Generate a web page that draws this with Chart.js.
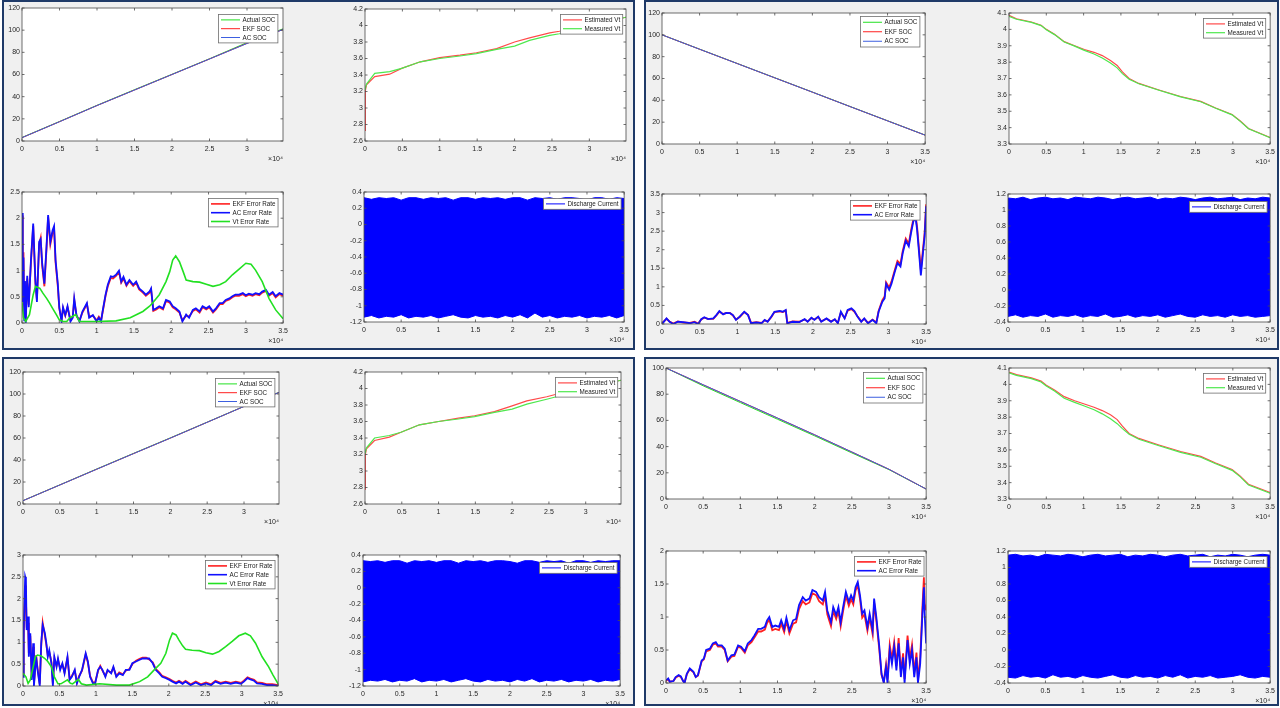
<!DOCTYPE html>
<html><head><meta charset="utf-8">
<script src="https://cdn.jsdelivr.net/npm/chart.js@4"></script>
<style>
html,body{margin:0;padding:0;background:#fff;}
body{width:1280px;height:708px;position:relative;overflow:hidden;}
.panel{position:absolute;box-sizing:border-box;border:2px solid #1f3a68;background:#f0f0f0;overflow:hidden;}
.panel canvas{position:absolute;}
</style></head><body>
<script>
// ---------------- DATA (x in units of 10^4 s) ----------------
// Panel A (top-left)
const socT_A = [0, 0.5, 1, 1.5, 2, 2.5, 3, 3.48];
const actualSoc_A = [3.2, 17.6, 32.2, 46.3, 60.2, 74.2, 88.8, 101.2];
const ekfSoc_A = [3.0, 17.4, 32.0, 46.0, 60.0, 74.0, 88.1, 100.6];
const acSoc_A = [3.0, 17.4, 32.0, 46.0, 60.0, 74.0, 88.0, 100.6];
const vtT_A = [0, 0.005, 0.02, 0.13, 0.33, 0.49, 0.74, 1.0, 1.27, 1.49, 1.76, 2.0, 2.2, 2.47, 2.6, 2.8, 3.0, 3.25, 3.49];
const estVt_A = [2.73, 3.21, 3.28, 3.38, 3.41, 3.48, 3.56, 3.61, 3.64, 3.67, 3.72, 3.80, 3.85, 3.91, 3.93, 3.97, 4.01, 4.06, 4.10];
const measVt_A = [3.23, 3.24, 3.29, 3.42, 3.44, 3.48, 3.56, 3.60, 3.63, 3.66, 3.71, 3.75, 3.82, 3.88, 3.90, 3.94, 3.99, 4.05, 4.10];
const errT_A = [0,0.01,0.02,0.03,0.04,0.05,0.07,0.09,0.12,0.15, 0.18,0.20,0.23,0.25,0.27,0.30,0.33,0.35,0.38,0.41, 0.43,0.45,0.48,0.50,0.53,0.55,0.58,0.61,0.65,0.68, 0.70,0.73,0.77,0.81,0.87,0.90,0.95,1.0,1.03,1.06, 1.08,1.12,1.15,1.19,1.22,1.26,1.30,1.33,1.36,1.40, 1.44,1.49,1.53,1.57,1.62,1.66,1.71,1.73,1.76,1.80, 1.84,1.89,1.93,1.98,2.02,2.06,2.11,2.15,2.20,2.24, 2.29,2.33,2.38,2.42,2.47,2.51,2.56,2.60,2.65,2.69, 2.73,2.78,2.82,2.86,2.91,2.96,3.0,3.04,3.09,3.13, 3.18,3.22,3.27,3.31,3.36,3.40,3.45,3.5];
const acErr_A = [2.10,0.40,1.25,0.05,0.80,0.00,0.90,0.30,1.20,1.90, 0.80,0.40,1.55,1.60,1.15,0.75,1.50,2.06,1.55,1.77, 1.85,1.20,0.75,0.30,0.03,0.30,0.15,0.32,0.03,0.10, 0.47,0.15,0.03,0.22,0.38,0.10,0.15,0.03,0.10,0.03, 0.22,0.54,0.73,0.89,0.88,0.92,1.00,0.79,0.88,0.73, 0.82,0.73,0.79,0.66,0.60,0.54,0.60,0.66,0.25,0.28, 0.32,0.28,0.44,0.41,0.32,0.28,0.22,0.03,0.16,0.10, 0.25,0.28,0.22,0.32,0.28,0.32,0.22,0.28,0.38,0.38, 0.44,0.47,0.51,0.54,0.54,0.57,0.53,0.56,0.54,0.57, 0.55,0.60,0.63,0.54,0.59,0.51,0.57,0.54];
const ekfErr_A = [2.05,0.45,1.35,0.10,0.78,0.05,0.85,0.35,1.15,1.85, 0.75,0.45,1.50,1.62,1.10,0.70,1.45,2.02,1.50,1.72, 1.80,1.15,0.70,0.28,0.05,0.28,0.14,0.30,0.05,0.12, 0.44,0.14,0.05,0.20,0.36,0.12,0.14,0.05,0.12,0.05, 0.20,0.52,0.70,0.86,0.85,0.90,0.97,0.77,0.85,0.71, 0.80,0.71,0.77,0.64,0.58,0.52,0.58,0.64,0.23,0.26, 0.30,0.26,0.42,0.39,0.30,0.26,0.20,0.05,0.14,0.12, 0.23,0.26,0.20,0.30,0.26,0.30,0.20,0.26,0.36,0.36, 0.42,0.45,0.49,0.52,0.52,0.55,0.51,0.54,0.52,0.55, 0.53,0.58,0.61,0.52,0.57,0.49,0.55,0.52];
const vtErrT_A = [0,0.02,0.05,0.10,0.15,0.18,0.24,0.28,0.33,0.37, 0.41,0.46,0.50,0.55,0.60,0.64,0.68,0.72,0.77,0.80, 1.0,1.26,1.45,1.62,1.71,1.75,1.84,1.93,1.98,2.02, 2.06,2.11,2.16,2.20,2.29,2.38,2.47,2.56,2.65,2.73, 2.82,2.91,3.0,3.07,3.13,3.22,3.31,3.40,3.5];
const vtErr_A = [0.40,0.10,0.03,0.16,0.54,0.70,0.66,0.57,0.47,0.38, 0.28,0.16,0.06,0.03,0.03,0.10,0.13,0.16,0.03,0.03, 0.03,0.04,0.10,0.22,0.32,0.38,0.54,0.79,0.98,1.20, 1.28,1.17,0.98,0.82,0.79,0.78,0.74,0.70,0.73,0.79, 0.92,1.03,1.14,1.12,1.01,0.79,0.47,0.25,0.08];

// Panel B (top-right)
const socT_B = [0, 0.5, 1, 1.5, 2, 2.5, 3, 3.5];
const actualSoc_B = [100, 86.9, 73.8, 60.7, 47.6, 34.4, 21.3, 8.2];
const ekfSoc_B = [100, 86.8, 73.7, 60.6, 47.5, 34.3, 21.2, 8.1];
const acSoc_B = [100, 86.8, 73.7, 60.6, 47.5, 34.3, 21.2, 8.1];
const vtT_B = [0,0.1,0.3,0.43,0.5,0.61,0.74,0.88,1.01,1.14,1.25,1.36,1.45,1.52,1.61,1.74,2.01,2.3,2.57,2.77,2.99,3.1,3.21,3.5];
const estVt_B = [4.086,4.065,4.045,4.025,4.0,3.97,3.925,3.9,3.877,3.86,3.84,3.81,3.78,3.74,3.70,3.67,3.63,3.59,3.56,3.52,3.48,3.44,3.395,3.34];
const measVt_B = [4.08,4.062,4.043,4.023,3.998,3.968,3.923,3.898,3.872,3.85,3.825,3.795,3.765,3.73,3.695,3.668,3.628,3.588,3.558,3.518,3.478,3.438,3.393,3.338];
const errT_B = [0,0.06,0.10,0.15,0.21,0.28,0.37,0.43,0.48,0.52, 0.56,0.61,0.68,0.72,0.76,0.81,0.85,0.90,0.94,0.98, 1.03,1.09,1.14,1.18,1.25,1.32,1.36,1.40,1.45,1.49, 1.56,1.60,1.64,1.66,1.73,1.82,1.89,1.93,1.98,2.02, 2.07,2.11,2.18,2.24,2.29,2.33,2.37,2.42,2.46,2.51, 2.55,2.59,2.64,2.68,2.73,2.79,2.84,2.87,2.92,2.95, 2.97,3.01,3.04,3.08,3.12,3.16,3.19,3.23,3.27,3.30, 3.33,3.36,3.38,3.41,3.43,3.46,3.48,3.50];
const acErr_B = [0,0.15,0.06,0,0.06,0.05,0.02,0.05,0,0.13, 0.18,0.13,0.15,0.24,0.35,0.26,0.30,0.29,0.24,0.11, 0.20,0.33,0.24,0.02,0.04,0.02,0.11,0.06,0.20,0.33, 0.35,0.33,0.38,0.02,0.06,0.05,0.13,0.06,0.17,0.11, 0.20,0.06,0.15,0.06,0.13,0.02,0.33,0.15,0.38,0.42, 0.35,0.20,0.06,0.15,0.02,0.11,0.02,0.33,0.60,0.69, 1.08,0.92,1.08,1.37,1.64,1.55,1.91,2.24,2.09,2.45, 2.76,2.87,2.54,1.82,1.31,1.95,2.36,3.17];
const ekfErr_B = [0.02,0.14,0.07,0.01,0.07,0.04,0.03,0.06,0.01,0.12, 0.17,0.14,0.14,0.23,0.33,0.27,0.29,0.30,0.23,0.12, 0.19,0.32,0.25,0.03,0.05,0.03,0.10,0.07,0.19,0.32, 0.34,0.32,0.36,0.03,0.07,0.06,0.12,0.07,0.16,0.12, 0.19,0.07,0.14,0.07,0.12,0.03,0.31,0.16,0.36,0.40, 0.33,0.21,0.07,0.14,0.03,0.12,0.04,0.35,0.64,0.74, 1.12,0.98,1.14,1.42,1.70,1.62,1.97,2.30,2.16,2.52, 2.82,2.92,2.62,1.92,1.45,2.05,2.45,3.22];

// Panel C (bottom-left)
const socT_C = [0, 0.5, 1, 1.5, 2, 2.5, 3, 3.475];
const actualSoc_C = [3.1, 17.4, 31.8, 46.0, 60.1, 74.4, 88.8, 101.5];
const ekfSoc_C = [3.0, 17.3, 31.6, 45.8, 59.9, 74.3, 88.7, 101.4];
const acSoc_C = [3.0, 17.3, 31.6, 45.8, 59.9, 74.3, 88.7, 101.4];
const vtT_C = [0, 0.005, 0.02, 0.13, 0.33, 0.49, 0.74, 1.0, 1.27, 1.49, 1.76, 2.0, 2.2, 2.47, 2.6, 2.8, 3.0, 3.25, 3.48];
const estVt_C = [2.78, 3.20, 3.27, 3.37, 3.41, 3.47, 3.56, 3.60, 3.64, 3.67, 3.72, 3.79, 3.85, 3.90, 3.93, 3.97, 4.01, 4.06, 4.10];
const measVt_C = [3.22, 3.23, 3.28, 3.40, 3.43, 3.47, 3.56, 3.60, 3.63, 3.66, 3.71, 3.75, 3.81, 3.87, 3.90, 3.94, 3.99, 4.05, 4.10];
const errT_C = [0,0.01,0.03,0.04,0.05,0.07,0.08,0.10,0.12,0.14, 0.15,0.18,0.20,0.23,0.25,0.27,0.30,0.32,0.34,0.36, 0.39,0.41,0.43,0.46,0.48,0.51,0.54,0.57,0.61,0.64, 0.67,0.71,0.74,0.77,0.81,0.86,0.89,0.92,0.96,0.99, 1.03,1.06,1.09,1.13,1.16,1.21,1.24,1.28,1.32,1.37, 1.41,1.46,1.50,1.55,1.60,1.64,1.69,1.73,1.78,1.82, 1.87,1.91,1.96,2.01,2.05,2.10,2.14,2.19,2.23,2.30, 2.37,2.44,2.51,2.58,2.64,2.71,2.78,2.85,2.92,2.99, 3.03,3.08,3.12,3.17,3.21,3.28,3.35,3.42,3.50];
const acErr_C = [0.21,1.28,2.50,2.43,1.28,1.59,0.67,1.21,0.14,0.98, 0,0.67,0.37,0,0.98,1.40,1.21,0.98,0.67,0.82, 0.52,0,0.67,0.44,0.63,0.37,0.52,0.29,0.67,0.14, 0.21,0.37,0.06,0.21,0.37,0.75,0.56,0.21,0.06,0.06, 0.37,0.44,0.37,0.21,0.37,0.29,0.44,0.21,0.29,0.25, 0.37,0.37,0.52,0.56,0.60,0.63,0.63,0.63,0.52,0.37, 0.29,0.21,0.18,0.14,0.10,0.06,0.10,0.05,0.10,0.02, 0.08,0.02,0.06,0.02,0.10,0.05,0.08,0.05,0.08,0.05, 0.10,0.18,0.15,0.12,0.06,0.05,0.02,0.02,0];
const ekfErr_C = [0.25,1.10,2.30,2.00,1.40,1.45,0.75,1.15,0.20,0.90, 0.05,0.70,0.40,0.05,0.92,1.45,1.15,0.95,0.70,0.78, 0.55,0.05,0.62,0.46,0.60,0.40,0.50,0.31,0.64,0.16, 0.23,0.35,0.08,0.23,0.35,0.72,0.54,0.23,0.08,0.08, 0.35,0.46,0.35,0.23,0.35,0.31,0.42,0.23,0.31,0.27, 0.35,0.39,0.50,0.58,0.62,0.65,0.65,0.61,0.54,0.39, 0.31,0.23,0.20,0.16,0.12,0.08,0.12,0.07,0.12,0.04, 0.10,0.04,0.08,0.04,0.12,0.07,0.10,0.07,0.10,0.07, 0.12,0.20,0.17,0.14,0.08,0.07,0.04,0.04,0.02];
const vtErrT_C = [0,0.04,0.07,0.10,0.14,0.17,0.20,0.25,0.30,0.34, 0.39,0.43,0.48,0.52,0.57,0.61,0.65,0.68,0.72,0.76, 0.80,0.87,1.05,1.28,1.46,1.60,1.71,1.80,1.89,1.96, 2.01,2.05,2.10,2.14,2.19,2.23,2.32,2.42,2.51,2.60, 2.69,2.78,2.87,2.96,3.05,3.12,3.19,3.28,3.37,3.43, 3.50];
const vtErr_C = [0.29,0.21,0.06,0.14,0.44,0.67,0.71,0.69,0.63,0.56, 0.44,0.21,0.05,0.05,0.10,0.14,0.06,0.05,0.10,0.15, 0.05,0.02,0.05,0.02,0.02,0.10,0.21,0.37,0.52,0.75, 1.05,1.21,1.17,1.05,0.92,0.84,0.82,0.81,0.76,0.73, 0.79,0.90,1.02,1.15,1.21,1.15,0.98,0.67,0.44,0.25, 0.05];

// Panel D (bottom-right)
const socT_D = [0, 0.5, 1, 1.5, 2, 2.5, 3, 3.5];
const actualSoc_D = [100, 86.4, 73.6, 60.9, 48.2, 35.2, 22.4, 7.6];
const ekfSoc_D = [100, 87.2, 74.5, 61.8, 49.0, 35.9, 22.7, 7.6];
const acSoc_D = [100, 87.2, 74.5, 61.8, 49.0, 35.9, 22.7, 7.6];
const vtT_D = [0,0.1,0.3,0.43,0.5,0.61,0.74,0.88,1.01,1.14,1.25,1.36,1.45,1.52,1.61,1.74,2.01,2.3,2.57,2.77,2.99,3.1,3.21,3.5];
const estVt_D = [4.075,4.06,4.04,4.02,3.995,3.965,3.925,3.9,3.88,3.86,3.84,3.815,3.785,3.745,3.70,3.67,3.63,3.59,3.56,3.52,3.48,3.44,3.39,3.34];
const measVt_D = [4.07,4.055,4.035,4.015,3.99,3.96,3.915,3.89,3.868,3.845,3.82,3.79,3.76,3.73,3.695,3.665,3.625,3.585,3.555,3.515,3.475,3.435,3.385,3.335];
const errT_D = [0,0.03,0.05,0.10,0.13,0.17,0.20,0.23,0.25,0.28, 0.32,0.37,0.40,0.43,0.48,0.51,0.54,0.59,0.63,0.67, 0.70,0.75,0.79,0.83,0.88,0.92,0.97,1.01,1.06,1.10, 1.15,1.19,1.24,1.28,1.33,1.36,1.39,1.43,1.47,1.52, 1.55,1.59,1.62,1.66,1.71,1.75,1.79,1.84,1.88,1.93, 1.97,2.02,2.06,2.11,2.14,2.17,2.22,2.25,2.29,2.32, 2.35,2.38,2.42,2.46,2.49,2.52,2.55,2.58,2.61,2.64, 2.67,2.71,2.74,2.78,2.80,2.83,2.87,2.90,2.93,2.96, 2.98,3.01,3.04,3.07,3.10,3.13,3.16,3.19,3.21,3.25, 3.28,3.31,3.34,3.37,3.39,3.42,3.45,3.47,3.48,3.50];
const acErr_D = [0.04,0.07,0.02,0.03,0.09,0.12,0.10,0.03,0,0.14, 0.22,0.17,0.09,0.12,0.34,0.37,0.50,0.52,0.60,0.62, 0.57,0.57,0.52,0.34,0.42,0.43,0.57,0.55,0.48,0.60, 0.65,0.72,0.82,0.82,0.85,0.95,1.00,0.85,0.87,0.85, 0.95,0.82,0.99,0.80,0.95,0.97,1.18,1.30,1.25,1.28, 1.41,1.38,1.30,1.25,1.38,1.10,0.92,1.15,1.03,1.15, 0.92,1.13,1.38,1.23,1.33,1.25,1.45,1.53,1.33,1.05, 1.10,0.85,1.05,0.80,1.28,1.00,0.55,0.14,0,0.24, 0,0.50,0.29,0.55,0.19,0.60,0.09,0.39,0,0.65, 0.29,0.50,0.09,0.39,0,0.29,1.05,1.45,1.05,0.60];
const ekfErr_D = [0.03,0.06,0.02,0.03,0.08,0.11,0.09,0.03,0.01,0.13, 0.21,0.16,0.09,0.11,0.33,0.36,0.48,0.50,0.58,0.60, 0.55,0.55,0.50,0.33,0.40,0.41,0.55,0.53,0.46,0.57, 0.62,0.69,0.78,0.78,0.81,0.91,0.96,0.80,0.82,0.80, 0.90,0.77,0.94,0.75,0.90,0.92,1.12,1.24,1.19,1.22, 1.36,1.33,1.24,1.19,1.32,1.04,0.86,1.09,0.97,1.09, 0.86,1.07,1.32,1.17,1.27,1.19,1.40,1.48,1.27,0.99, 1.04,0.79,0.99,0.74,1.22,0.94,0.50,0.12,0.02,0.28, 0.05,0.58,0.36,0.62,0.26,0.68,0.16,0.45,0.06,0.72, 0.36,0.58,0.16,0.46,0.05,0.38,1.15,1.60,1.20,1.10];

// Discharge current: upper / lower envelope of the dense pulse signal
const curT = [0,0.1,0.2,0.3,0.4,0.5,0.6,0.7,0.8,0.9,1.0,1.1,1.2,1.3,1.4,1.5,1.6,1.7,1.8,1.9,2.0,2.1,2.2,2.3,2.4,2.5,2.6,2.7,2.8,2.9,3.0,3.1,3.2,3.3,3.4,3.5];
const curHi_A = [0.33,0.31,0.33,0.32,0.33,0.30,0.33,0.33,0.31,0.33,0.32,0.33,0.30,0.33,0.33,0.31,0.33,0.32,0.33,0.31,0.33,0.33,0.30,0.33,0.32,0.33,0.31,0.33,0.33,0.32,0.30,0.33,0.33,0.31,0.33,0.32];
const curLo_A = [-1.14,-1.12,-1.15,-1.13,-1.14,-1.11,-1.15,-1.13,-1.14,-1.12,-1.15,-1.13,-1.11,-1.14,-1.15,-1.12,-1.14,-1.13,-1.15,-1.12,-1.14,-1.11,-1.15,-1.09,-1.14,-1.12,-1.15,-1.13,-1.14,-1.12,-1.15,-1.13,-1.14,-1.12,-1.15,-1.12];
const curHi_B = [1.15,1.14,1.16,1.13,1.15,1.16,1.14,1.15,1.13,1.16,1.15,1.14,1.16,1.15,1.13,1.15,1.16,1.14,1.15,1.16,1.13,1.15,1.14,1.16,1.15,1.13,1.15,1.16,1.14,1.15,1.16,1.13,1.15,1.14,1.16,1.15];
const curLo_B = [-0.33,-0.31,-0.34,-0.32,-0.33,-0.30,-0.34,-0.32,-0.33,-0.31,-0.34,-0.32,-0.33,-0.30,-0.34,-0.33,-0.31,-0.34,-0.32,-0.33,-0.31,-0.34,-0.32,-0.30,-0.33,-0.34,-0.31,-0.33,-0.32,-0.34,-0.31,-0.33,-0.32,-0.34,-0.33,-0.32];
const curHi_C = [0.33,0.32,0.33,0.31,0.33,0.33,0.30,0.33,0.32,0.33,0.31,0.33,0.33,0.30,0.33,0.32,0.33,0.31,0.33,0.33,0.32,0.30,0.33,0.33,0.31,0.33,0.32,0.33,0.30,0.33,0.33,0.31,0.33,0.32,0.33,0.33];
const curLo_C = [-1.15,-1.13,-1.14,-1.12,-1.15,-1.13,-1.14,-1.11,-1.15,-1.13,-1.14,-1.12,-1.15,-1.13,-1.11,-1.14,-1.15,-1.12,-1.14,-1.13,-1.15,-1.12,-1.14,-1.11,-1.15,-1.13,-1.14,-1.12,-1.15,-1.13,-1.14,-1.12,-1.15,-1.13,-1.14,-1.12];
const curHi_D = [1.15,1.16,1.14,1.15,1.13,1.16,1.15,1.14,1.16,1.15,1.13,1.15,1.16,1.14,1.15,1.16,1.13,1.15,1.14,1.16,1.15,1.13,1.15,1.16,1.14,1.15,1.16,1.13,1.15,1.14,1.16,1.15,1.13,1.15,1.16,1.15];
const curLo_D = [-0.33,-0.34,-0.31,-0.33,-0.32,-0.34,-0.30,-0.33,-0.32,-0.34,-0.31,-0.33,-0.34,-0.32,-0.30,-0.33,-0.34,-0.31,-0.33,-0.32,-0.34,-0.31,-0.33,-0.30,-0.34,-0.32,-0.33,-0.31,-0.34,-0.33,-0.32,-0.30,-0.33,-0.34,-0.32,-0.33];

// ---------------- RENDERING ----------------
const FONT = "'Liberation Sans', Arial, Helvetica, sans-serif";
Chart.defaults.font.family = FONT;
const GREEN = '#22e022', RED = '#ff2020', BLUE = '#1010ff';

const PANELS = { A:[2,0,633,350], B:[644,0,635,350], C:[2,357,633,349], D:[644,357,635,349] };
const panelEl = {};
for (const k in PANELS) {
  const [x,y,w,h] = PANELS[k];
  const d = document.createElement('div');
  d.className = 'panel';
  d.style.left = x+'px'; d.style.top = y+'px'; d.style.width = w+'px'; d.style.height = h+'px';
  document.body.appendChild(d);
  panelEl[k] = d;
}

function pts(xs, ys) { return xs.map((x,i) => ({x:x, y:ys[i]})); }
function line(label, xs, ys, color, width) {
  return { label, data: pts(xs, ys), borderColor: color, backgroundColor: color, borderWidth: width, fill: false, pointRadius: 0, tension: 0 };
}
function fmt(v) { return String(Math.round(v*1000)/1000); }

const boxPlugin = {
  id: 'mbox',
  beforeDraw(chart) {
    const {ctx, chartArea:a} = chart;
    ctx.save(); ctx.fillStyle = '#ffffff';
    ctx.fillRect(a.left, a.top, a.right-a.left, a.bottom-a.top);
    ctx.restore();
  },
  afterDraw(chart) {
    const {ctx, chartArea:a, scales} = chart;
    ctx.save();
    ctx.strokeStyle = '#4a4a4a'; ctx.lineWidth = 0.8;
    ctx.strokeRect(a.left, a.top, a.right-a.left, a.bottom-a.top);
    const tl = 2.5;
    ctx.beginPath();
    scales.x.ticks.forEach(t => {
      const p = scales.x.getPixelForValue(t.value);
      ctx.moveTo(p, a.bottom); ctx.lineTo(p, a.bottom - tl);
      ctx.moveTo(p, a.top); ctx.lineTo(p, a.top + tl);
    });
    scales.y.ticks.forEach(t => {
      const p = scales.y.getPixelForValue(t.value);
      ctx.moveTo(a.left, p); ctx.lineTo(a.left + tl, p);
      ctx.moveTo(a.right, p); ctx.lineTo(a.right - tl, p);
    });
    ctx.stroke();
    // legend (MATLAB style, inside top-right)
    const lg = chart.options.plugins.mlegend;
    if (lg) {
      const items = chart.data.datasets.filter(d => !d.noLegend);
      const fs = 6.3;
      ctx.font = fs + 'px ' + FONT;
      const rowH = lg.rowH || 8.8, padL = 2.5, sample = lg.sample || 19, gap = 2.5, padR = 2.5, padV = 1;
      let tw = 0; items.forEach(d => { tw = Math.max(tw, ctx.measureText(d.label).width); });
      const bw = padL + sample + gap + tw + padR;
      const bh = items.length*rowH + 2*padV;
      const bx = Math.round(a.right - (lg.right ?? 5) - bw) + 0.5;
      const by = Math.round(a.top + (lg.top ?? 5)) + 0.5;
      ctx.fillStyle = '#ffffff'; ctx.fillRect(bx, by, bw, bh);
      ctx.strokeStyle = '#6e6e6e'; ctx.lineWidth = 0.8; ctx.strokeRect(bx, by, bw, bh);
      items.forEach((d,i) => {
        const y = by + padV + rowH*(i+0.5);
        ctx.strokeStyle = d.borderColor; ctx.lineWidth = Math.min(d.borderWidth, 1.6);
        ctx.beginPath(); ctx.moveTo(bx+padL, y); ctx.lineTo(bx+padL+sample, y); ctx.stroke();
        ctx.fillStyle = '#1a1a1a'; ctx.textBaseline = 'middle'; ctx.textAlign = 'left';
        ctx.fillText(d.label, bx+padL+sample+gap, y+0.3);
      });
    }
    ctx.restore();
  }
};

function makeChart(pid, l, t, w, h, cfg) {
  const [px, py] = PANELS[pid];
  const PADL = 34, PADT = 7, PADR = 8, PADB = 30;
  const cv = document.createElement('canvas');
  cv.width = w + PADL + PADR; cv.height = h + PADT + PADB;
  cv.style.left = (l - PADL - px - 2) + 'px';
  cv.style.top = (t - PADT - py - 2) + 'px';
  cv.style.width = cv.width + 'px'; cv.style.height = cv.height + 'px';
  panelEl[pid].appendChild(cv);
  const n = cfg.datasets.length;
  // MATLAB draws later series on top: give later datasets a lower Chart.js order
  cfg.datasets.forEach((d, i) => { d.order = n - i; });
  const tickFont = {size: 7, family: FONT};
  return new Chart(cv, {
    type: 'line',
    data: { datasets: cfg.datasets },
    options: {
      responsive: false, animation: false, devicePixelRatio: 1,
      layout: { padding: { top: PADT, right: PADR, left: 0, bottom: 0 } },
      elements: { point: { radius: 0 }, line: { tension: 0 } },
      plugins: { legend: { display: false }, tooltip: { enabled: false }, mlegend: cfg.legend || {} },
      scales: {
        x: {
          type: 'linear', min: 0, max: cfg.xMax,
          grid: { display: false, drawTicks: false }, border: { display: false },
          ticks: { stepSize: 0.5, includeBounds: false, autoSkip: false, maxRotation: 0, padding: 4, font: tickFont, color: '#262626', callback: fmt },
          title: { display: true, text: '×10⁴', align: 'end', font: {size: 7, family: FONT}, color: '#262626', padding: { top: 0, bottom: 8 } },
          afterFit(s) { s.height = PADB; }
        },
        y: {
          type: 'linear', min: cfg.yMin, max: cfg.yMax,
          grid: { display: false, drawTicks: false }, border: { display: false },
          ticks: { stepSize: cfg.yStep, includeBounds: false, autoSkip: false, padding: 2, font: tickFont, color: '#262626', callback: fmt },
          afterFit(s) { s.width = PADL; }
        }
      }
    },
    plugins: [boxPlugin]
  });
}

function socSets(t, a, e, c) {
  return [ line('Actual SOC', t, a, GREEN, 1), line('EKF SOC', t, e, RED, 1), line('AC SOC', t, c, '#3d5fe0', 1) ];
}
function vtSets(t, e, m) {
  return [ line('Estimated Vt', t, e, '#ff4a4a', 1.2), line('Measured Vt', t, m, '#4ee84e', 1.2) ];
}
function curSets(hi, lo) {
  const up = line('Discharge Current', curT, hi, '#0000ff', 1);
  up.fill = '+1'; up.backgroundColor = '#0000ff';
  const dn = line('lower', curT, lo, '#0000ff', 1);
  dn.noLegend = true;
  return [up, dn];
}

// Panel A
makeChart('A', 22, 8, 261, 133, { xMax: 3.48, yMin: 0, yMax: 120, yStep: 20, datasets: socSets(socT_A, actualSoc_A, ekfSoc_A, acSoc_A), legend: {right: 6, top: 6} });
makeChart('A', 365, 9, 261, 132, { xMax: 3.49, yMin: 2.6, yMax: 4.2, yStep: 0.2, datasets: vtSets(vtT_A, estVt_A, measVt_A), legend: {right: 4, top: 5} });
makeChart('A', 22, 192, 262, 131, { xMax: 3.5, yMin: 0, yMax: 2.5, yStep: 0.5, datasets: [
  line('EKF Error Rate', errT_A, ekfErr_A, RED, 1.8), line('AC Error Rate', errT_A, acErr_A, BLUE, 1.8), line('Vt Error Rate', vtErrT_A, vtErr_A, GREEN, 1.6)
], legend: {right: 6, top: 6} });
makeChart('A', 364, 192, 261, 130, { xMax: 3.5, yMin: -1.2, yMax: 0.4, yStep: 0.2, datasets: curSets(curHi_A, curLo_A), legend: {right: 4, top: 6} });

// Panel B
makeChart('B', 662, 13, 264, 131, { xMax: 3.5, yMin: 0, yMax: 120, yStep: 20, datasets: socSets(socT_B, actualSoc_B, ekfSoc_B, acSoc_B), legend: {right: 6, top: 2.5, rowH: 9.5} });
makeChart('B', 1009, 13, 262, 131, { xMax: 3.5, yMin: 3.3, yMax: 4.1, yStep: 0.1, datasets: vtSets(vtT_B, estVt_B, measVt_B), legend: {right: 5, top: 5} });
makeChart('B', 662, 194, 265, 130, { xMax: 3.5, yMin: 0, yMax: 3.5, yStep: 0.5, datasets: [
  line('EKF Error Rate', errT_B, ekfErr_B, RED, 1.8), line('AC Error Rate', errT_B, acErr_B, BLUE, 1.8)
], legend: {right: 7, top: 6} });
makeChart('B', 1008, 194, 263, 128, { xMax: 3.5, yMin: -0.4, yMax: 1.2, yStep: 0.2, datasets: curSets(curHi_B, curLo_B), legend: {right: 4, top: 7} });

// Panel C
makeChart('C', 23, 372, 256, 132, { xMax: 3.475, yMin: 0, yMax: 120, yStep: 20, datasets: socSets(socT_C, actualSoc_C, ekfSoc_C, acSoc_C), legend: {right: 5, top: 6} });
makeChart('C', 365, 372, 256, 132, { xMax: 3.48, yMin: 2.6, yMax: 4.2, yStep: 0.2, datasets: vtSets(vtT_C, estVt_C, measVt_C), legend: {right: 4, top: 5} });
makeChart('C', 23, 555, 256, 131, { xMax: 3.5, yMin: 0, yMax: 3, yStep: 0.5, datasets: [
  line('EKF Error Rate', errT_C, ekfErr_C, RED, 1.8), line('AC Error Rate', errT_C, acErr_C, BLUE, 1.8), line('Vt Error Rate', vtErrT_C, vtErr_C, GREEN, 1.6)
], legend: {right: 4, top: 5} });
makeChart('C', 363, 555, 258, 131, { xMax: 3.5, yMin: -1.2, yMax: 0.4, yStep: 0.2, datasets: curSets(curHi_C, curLo_C), legend: {right: 4, top: 7} });

// Panel D
makeChart('D', 666, 368, 261, 131, { xMax: 3.5, yMin: 0, yMax: 100, yStep: 20, datasets: socSets(socT_D, actualSoc_D, ekfSoc_D, acSoc_D), legend: {right: 4, top: 4, rowH: 9.5} });
makeChart('D', 1009, 368, 262, 131, { xMax: 3.5, yMin: 3.3, yMax: 4.1, yStep: 0.1, datasets: vtSets(vtT_D, estVt_D, measVt_D), legend: {right: 5, top: 5} });
makeChart('D', 666, 551, 261, 132, { xMax: 3.5, yMin: 0, yMax: 2, yStep: 0.5, datasets: [
  line('EKF Error Rate', errT_D, ekfErr_D, RED, 1.8), line('AC Error Rate', errT_D, acErr_D, BLUE, 1.8)
], legend: {right: 3, top: 5} });
makeChart('D', 1008, 551, 263, 132, { xMax: 3.5, yMin: -0.4, yMax: 1.2, yStep: 0.2, datasets: curSets(curHi_D, curLo_D), legend: {right: 4, top: 5} });
</script>
</body></html>
